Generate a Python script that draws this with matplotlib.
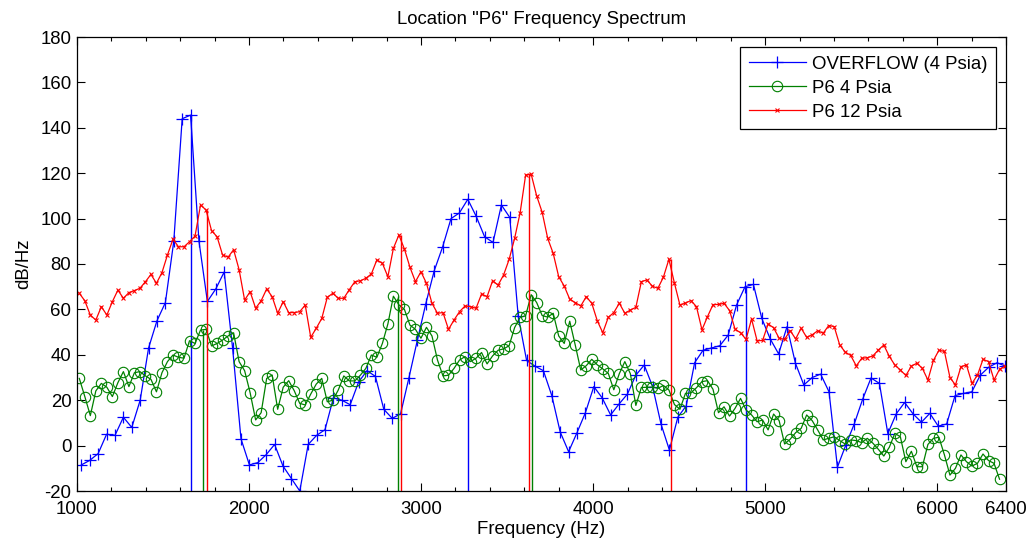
import numpy as np
import matplotlib
matplotlib.use("Agg")
import matplotlib.pyplot as plt

plt.rcParams['font.family'] = ['Liberation Sans', 'DejaVu Sans']
plt.rcParams['axes.unicode_minus'] = False

# ---------------- data ----------------
# OVERFLOW (4 Psia): FFT bins k=21..131 with 48.83 Hz resolution
overflow_df = 48.83
overflow_bins = np.arange(21, 132)
overflow_db = [
    -8.5, -6.5, -3.5, 5, 4.5, 12.5, 8, 20, 43, 55,
    63, 90, 144, 145.6, 90, 63.5, 69, 76.5, 43, 3,
    -8.5, -7.5, -4, 0.5, -9, -14.5, -20, 0.5, 4.5, 7,
    21, 20, 18, 28, 33, 30.5, 16, 12, 14, 30,
    46.5, 62.5, 77, 87.5, 100, 102.5, 108.5, 101, 92, 89.5,
    106, 100.5, 57, 37.5, 35, 33, 22, 6, -2.7, 5.7,
    14.5, 26, 21, 13.5, 18.3, 22.7, 31, 35.5, 26, 9.5,
    -2, 12.5, 17.5, 36.5, 42, 43, 44, 48.7, 62, 70,
    71, 56, 47, 40.4, 52.4, 36.3, 26.7, 30, 31.5, 23.7,
    -9.5, 0.3, 9.5, 20.4, 29.8, 27.4, 5.3, 14, 19, 14,
    10.3, 14.2, 8.6, 9.5, 22, 23, 23.7, 31, 34.5, 36.5,
    35,
]

# P6 spectra: frequency grid starting at 1013.4 Hz, 32.03 Hz resolution
p6_f0 = 1013.4
p6_df = 32.03

p6_4psia_db = [
    29.6, 21.6, 13.2, 24.1, 27.4, 25.7, 21.6, 27.7, 32.6, 26,
    32.1, 32.6, 30.7, 29.2, 23.7, 32.1, 37, 39.9, 38.9, 38.5,
    46.2, 45, 50.9, 51.2, 43.9, 45, 46.5, 48.3, 49.7, 37,
    33, 23.3, 11.3, 14.5, 29.6, 31.1, 16, 25.7, 28.6, 24.2,
    18.6, 17.9, 22.7, 27.1, 29.6, 19.3, 20, 24.5, 30.7, 28.5,
    28.5, 31, 34, 39.9, 38.9, 45, 53.6, 65.8, 62, 60,
    53.1, 51.2, 47.3, 52.1, 48.3, 37.7, 30.7, 31, 34, 37.7,
    39.2, 37, 38.5, 41, 36, 39.5, 42, 42.6, 44, 52,
    56.5, 57.2, 66.5, 63, 57.3, 56.6, 58.3, 48.3, 45, 54.8,
    44.3, 33.3, 35.2, 38, 35.6, 33.8, 31.8, 24.6, 31.7, 37,
    31.7, 17.7, 25.6, 25.7, 25.8, 25.2, 26.5, 24.5, 18.1, 16,
    23, 23.2, 25.5, 28.2, 28.6, 24.8, 14.5, 17.1, 13, 16.4,
    20.8, 15.7, 13.5, 10.5, 11.3, 6.9, 13.9, 11, 0.7, 2.8,
    5.7, 7.6, 13.5, 11, 6.9, 2.5, 3.2, 3.9, 2.2, 0.7,
    2.5, 2.2, 1.3, 3.2, 1.1, -1.6, -4.6, -0.7, 5.4, 3.9,
    -7.1, -2.5, -9.3, -9.3, 0.5, 3.2, 3.7, -4.1, -13, -10,
    -4.1, -7.1, -9, -7.8, -3.7, -6.6, -7.8, -14.8,
]

p6_12psia_db = [
    67.1, 63.8, 57.5, 55.3, 61.2, 57.5, 63.4, 68.5, 64.9, 67.4,
    68.3, 69.3, 72.2, 75.4, 71.5, 76.2, 84, 90.9, 87.6, 87.6,
    89.8, 92.3, 106, 103.8, 94.7, 92, 84, 83, 86.3, 77.5,
    64.1, 67.8, 60.5, 63.8, 69, 65.6, 58.3, 63.4, 58.6, 58.6,
    59, 61.9, 47.7, 51.7, 56, 65.3, 67.1, 64.9, 64.9, 68.7,
    72.2, 72.6, 73.7, 75.6, 81.8, 80.3, 74.4, 86.9, 92.8, 86.6,
    78.6, 72.2, 76.6, 71.5, 62.7, 58.3, 58.6, 51.2, 55.3, 59,
    61.5, 61.2, 60.5, 66.8, 65.6, 72.6, 70.7, 75.2, 82, 91.3,
    102.6, 119.2, 119.6, 110, 102.8, 91.3, 84.7, 74.4, 70.3, 64.5,
    63, 61.5, 65.6, 62.7, 55, 49.7, 56.5, 58.6, 62.7, 58.3,
    59.7, 60.9, 72.2, 73, 70.2, 69.3, 74.2, 82.1, 71.6, 61.9,
    62.8, 63.9, 61.2, 51, 56.8, 62.1, 62.2, 62.7, 59.5, 51.3,
    49.7, 46.8, 55.8, 46.2, 46.3, 53.6, 51.9, 47.3, 46.8, 50.7,
    47, 51.7, 47.7, 48.8, 50.6, 49.5, 52.9, 52.4, 44.3, 41.2,
    39.7, 35.1, 38.5, 38.7, 39.5, 42.1, 44.3, 39.3, 35.5, 33.3,
    30.9, 35, 36.3, 34, 28.9, 37.5, 42, 41.5, 30, 26.7,
    34.8, 35.5, 27.4, 31.1, 38, 37, 28.9, 33.6, 35,
]

# peak markers drawn as vertical lines (frequency in Hz, top in dB/Hz)
overflow_peak_hz = [1660, 3270, 4890]
overflow_peak_top = [145.6, 104.5, 69.7]
p6_4_peak_hz = [1733, 2868, 3647]
p6_4_peak_top = [51.0, 65.8, 66.5]
p6_12_peak_hz = [1754, 2883, 3629, 4450]
p6_12_peak_top = [103.8, 92.8, 119.6, 82.1]

labels = ['OVERFLOW (4 Psia)', 'P6 4 Psia', 'P6 12 Psia']
title = 'Location "P6" Frequency Spectrum'
xlabel = 'Frequency (Hz)'
ylabel = 'dB/Hz'
xticks = [1000, 2000, 3000, 4000, 5000, 6000, 6400]
yticks = list(range(-20, 181, 20))

# ---------------- derived frequency axes ----------------
f_over = overflow_bins * overflow_df
f_p6_4 = p6_f0 + p6_df * np.arange(len(p6_4psia_db))
f_p6_12 = p6_f0 + p6_df * np.arange(len(p6_12psia_db))

blue = (0, 0, 1)
green = (0, 0.5, 0)
red = (1, 0, 0)
FS = 13.4

fig = plt.figure(figsize=(10.31, 5.42), dpi=100)
ax = fig.add_axes([77 / 1031, 51 / 542, 929 / 1031, 454 / 542])

ymin, ymax = -20, 180

ax.plot(f_over, overflow_db, color=blue, marker='+', ms=8, mew=0.9, lw=0.9,
        label=labels[0])
ax.vlines(overflow_peak_hz, ymin, overflow_peak_top, color=blue, lw=1.0)
ax.plot(f_p6_4, p6_4psia_db, color=green, marker='o', ms=7.5, mfc='none',
        mew=0.8, lw=0.9, label=labels[1])
ax.vlines(p6_4_peak_hz, ymin, p6_4_peak_top, color=green, lw=1.0)
ax.plot(f_p6_12, p6_12psia_db, color=red, marker='x', ms=3.5, mew=0.8, lw=0.9,
        label=labels[2])
ax.vlines(p6_12_peak_hz, ymin, p6_12_peak_top, color=red, lw=1.0)

ax.set_xlim(1000, 6400)
ax.set_ylim(ymin, ymax)
ax.set_xticks(xticks)
ax.set_xticks(np.arange(1000, 6401, 200), minor=True)
ax.set_yticks(yticks)
ax.tick_params(which='both', direction='in', top=True, right=True,
               labelsize=FS, width=0.8)
ax.tick_params(which='major', length=6)
ax.tick_params(which='minor', length=3)
ax.tick_params(axis='x', pad=7)
ax.tick_params(axis='y', pad=4)
for s in ax.spines.values():
    s.set_linewidth(0.9)

ax.set_title(title, fontsize=FS, pad=9)
ax.set_xlabel(xlabel, fontsize=FS, labelpad=2)
ax.set_ylabel(ylabel, fontsize=FS, labelpad=6)

leg = ax.legend(loc='upper right', fontsize=FS, numpoints=1, fancybox=False,
                edgecolor='black', framealpha=1, borderpad=0.45,
                handlelength=3.1, handletextpad=0.3, labelspacing=0.38,
                borderaxespad=0.55)
leg.get_frame().set_linewidth(0.9)

fig.savefig('out.png', dpi=100)
